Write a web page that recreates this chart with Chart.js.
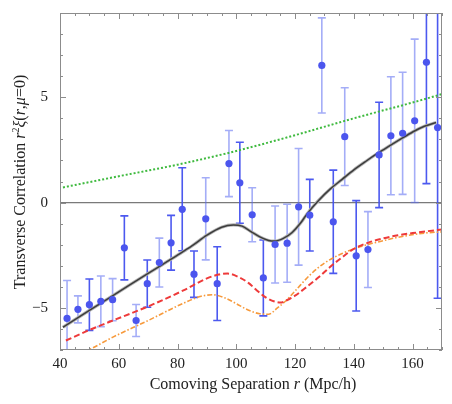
<!DOCTYPE html>
<html>
<head>
<meta charset="utf-8">
<script src="https://cdn.jsdelivr.net/npm/chart.js@4.4.1/dist/chart.umd.min.js"></script>
<style>
  html, body { margin: 0; padding: 0; background: #fff; }
  #wrap { width: 452px; height: 404px; }
</style>
</head>
<body>
<div id="wrap"><canvas id="xiChart" width="452" height="404"></canvas></div>
<script>
// измеренные точки: разделение r и r^2 xi с ошибками
const sepX   = [42.4, 46.1, 50.0, 53.9, 57.9, 61.9, 65.9, 69.7, 73.8, 77.8, 81.6, 85.6, 89.6, 93.5, 97.5, 101.2, 105.4,
                109.2, 113.2, 117.3, 121.2, 125.0, 129.1, 133.0, 136.9, 140.8, 144.8, 148.6, 152.6, 156.6, 160.7, 164.7, 168.5];
const xiVals = [-5.5, -5.07, -4.85, -4.69, -4.61, -2.15, -5.6, -3.85, -2.85, -1.91, -0.32, -3.4, -0.77, -3.85, 1.85, 0.94, -0.58,
                -3.58, -1.99, -1.93, -0.2, -0.6, 6.51, -0.91, 3.13, -2.53, -2.23, 2.26, 3.17, 3.29, 3.88, 6.66, 3.56];
const xiErr  = [1.8, 0.64, 1.22, 1.2, 1.0, 1.52, 0.76, 1.12, 1.16, 1.3, 1.97, 1.1, 1.95, 1.75, 1.57, 1.92, 1.28,
                1.8, 1.83, 1.85, 2.77, 1.7, 2.26, 2.45, 2.32, 2.62, 1.8, 2.5, 2.8, 2.9, 3.88, 5.76, 8.1];

// модельные кривые
const blackX = [41, 42, 50, 60, 70, 80, 85, 90, 95, 99, 102, 105, 108, 111, 113, 116, 119, 122, 124, 128, 132, 136, 140, 144, 148, 152, 156, 160, 164, 168];
const blackY = [-5.92, -5.83, -5.12, -4.24, -3.36, -2.5, -2.05, -1.55, -1.17, -1.06, -1.12, -1.38, -1.63, -1.8, -1.83, -1.7, -1.42, -0.95, -0.55, 0.1, 0.65, 1.1, 1.55, 1.95, 2.33, 2.68, 3.02, 3.35, 3.62, 3.8];
const redX   = [42, 50, 58, 70, 82, 90, 94, 97, 101, 104, 107, 110, 113, 115, 117, 120, 124, 128, 132, 136, 140, 145, 150, 155, 160, 165, 170];
const redY   = [-6.55, -6.05, -5.6, -4.93, -4.17, -3.6, -3.42, -3.37, -3.55, -3.8, -4.17, -4.5, -4.7, -4.75, -4.65, -4.42, -4.0, -3.55, -3.05, -2.6, -2.2, -1.9, -1.7, -1.55, -1.45, -1.36, -1.28];
const orangeX = [48, 50, 58, 70, 82, 88, 92, 96, 100, 104, 108, 111, 114, 117, 120, 125, 130, 136, 142, 148, 153, 158, 164, 170];
const orangeY = [-7.1, -6.98, -6.39, -5.6, -4.78, -4.45, -4.38, -4.52, -4.8, -5.1, -5.28, -5.3, -5.0, -4.65, -4.2, -3.45, -2.87, -2.42, -2.1, -1.88, -1.71, -1.57, -1.45, -1.39];
const greenX = [41, 60, 80, 100, 120, 140, 160, 170];
const greenY = [0.72, 1.25, 1.8, 2.45, 3.2, 4.0, 4.75, 5.15];

const xTicks = [40, 60, 80, 100, 120, 140, 160];
const yTicks = [-5, 0, 5];

// оттенок усов ошибок (1 - тёмный, 0 - светлый)
const barTone = [0, 0, 1, 0, 0, 1, 0, 1, 0, 1, 1, 1, 0, 1, 0, 1, 0, 1, 0, 0, 0, 1, 0, 1, 0, 1, 0, 1, 0, 0, 0, 1, 1];

const SERIF = '"Liberation Serif", "DejaVu Serif", serif';
const FRAME = '#8c8c8c';

function pts(xs, ys) {
    return xs.map((x, i) => ({ x: x, y: ys[i] }));
}

// Рамка, тики внутрь, нулевая линия, усы ошибок и подписи осей
const framePlugin = {
    id: 'framePlugin',
    beforeDatasetsDraw(chart) {
        const { ctx, chartArea: a, scales } = chart;
        const xs = scales.x, ys = scales.y;
        ctx.save();
        ctx.beginPath();
        ctx.rect(a.left, a.top, a.right - a.left, a.bottom - a.top);
        ctx.clip();

        // нулевая линия
        ctx.strokeStyle = '#7a7a7a';
        ctx.lineWidth = 1.2;
        const y0 = ys.getPixelForValue(0);
        ctx.beginPath();
        ctx.moveTo(a.left, y0);
        ctx.lineTo(a.right, y0);
        ctx.stroke();

        // усы ошибок
        ctx.lineWidth = 1.6;
        sepX.forEach((x, i) => {
            const px = xs.getPixelForValue(x);
            const top = ys.getPixelForValue(xiVals[i] + xiErr[i]);
            const bot = ys.getPixelForValue(xiVals[i] - xiErr[i]);
            ctx.strokeStyle = barTone[i] ? 'rgba(66, 80, 238, 0.95)' : 'rgba(90, 105, 240, 0.55)';
            ctx.beginPath();
            ctx.moveTo(px, top);
            ctx.lineTo(px, bot);
            ctx.moveTo(px - 4, top);
            ctx.lineTo(px + 4, top);
            ctx.moveTo(px - 4, bot);
            ctx.lineTo(px + 4, bot);
            ctx.stroke();
        });
        ctx.restore();
    },
    afterDatasetsDraw(chart) {
        const { ctx, chartArea: a, scales } = chart;
        const xs = scales.x, ys = scales.y;
        ctx.save();
        ctx.strokeStyle = FRAME;
        ctx.lineWidth = 1;
        ctx.strokeRect(a.left + 0.5, a.top + 0.5, a.right - a.left - 1, a.bottom - a.top - 1);

        ctx.beginPath();
        for (let v = 40; v <= 170; v += 5) {
            const px = Math.round(xs.getPixelForValue(v)) + 0.5;
            const len = v % 20 === 0 ? 6 : 3;
            ctx.moveTo(px, a.bottom);
            ctx.lineTo(px, a.bottom - len);
            ctx.moveTo(px, a.top);
            ctx.lineTo(px, a.top + len);
        }
        for (let v = -7; v <= 9; v += 1) {
            const py = Math.round(ys.getPixelForValue(v)) + 0.5;
            const len = v % 5 === 0 ? 6 : 3;
            ctx.moveTo(a.left, py);
            ctx.lineTo(a.left + len, py);
            ctx.moveTo(a.right, py);
            ctx.lineTo(a.right - len, py);
        }
        ctx.stroke();

        // подписи осей (курсив для переменных)
        ctx.fillStyle = '#222';
        ctx.textBaseline = 'alphabetic';
        const xParts = [['Comoving Separation ', ''], ['r', 'italic '], [' (Mpc/h)', '']];
        drawParts(ctx, xParts, (a.left + a.right) / 2 + 2, 389, 0);
        const yParts = [['Transverse Correlation ', ''], ['r', 'italic '], ['2', 'sup'], ['ξ', 'italic '], ['(', ''], ['r', 'italic '], [',', ''], ['μ', 'italic '], ['=0)', '']];
        drawParts(ctx, yParts, 25, 182, -Math.PI / 2);
        ctx.restore();
    }
};

function drawParts(ctx, parts, cx, cy, angle) {
    const size = 16;
    const fontOf = p => p[1] === 'sup' ? `${Math.round(size * 0.65)}px ${SERIF}` : `${p[1]}${size}px ${SERIF}`;
    let total = 0;
    parts.forEach(p => { ctx.font = fontOf(p); total += ctx.measureText(p[0]).width; });
    ctx.save();
    ctx.translate(cx, cy);
    ctx.rotate(angle);
    let x = -total / 2;
    parts.forEach(p => {
        ctx.font = fontOf(p);
        ctx.fillText(p[0], x, p[1] === 'sup' ? -6 : 0);
        x += ctx.measureText(p[0]).width;
    });
    ctx.restore();
}

const lineBase = { showLine: true, pointRadius: 0, cubicInterpolationMode: 'monotone', fill: false };

new Chart(document.getElementById('xiChart'), {
    type: 'scatter',
    data: {
        datasets: [
            {
                label: 'data',
                data: pts(sepX, xiVals),
                pointRadius: 3.6,
                pointBackgroundColor: '#4b55ee',
                pointBorderColor: '#4b55ee',
                pointBorderWidth: 0
            },
            Object.assign({ label: 'model', data: pts(blackX, blackY), borderColor: '#3c3c3c', borderWidth: 1.5 }, lineBase),
            Object.assign({ label: 'model halo', data: pts(blackX, blackY), borderColor: '#b4b4b4', borderWidth: 3.2 }, lineBase),
            Object.assign({ label: 'red', data: pts(redX, redY), borderColor: '#ee3a3a', borderWidth: 2, borderDash: [6, 3] }, lineBase),
            Object.assign({ label: 'orange', data: pts(orangeX, orangeY), borderColor: '#f79a3c', borderWidth: 1.6, borderDash: [5, 2, 1.5, 2] }, lineBase),
            Object.assign({ label: 'green', data: pts(greenX, greenY), borderColor: '#3fba3f', borderWidth: 2, borderDash: [2, 2] }, lineBase)
        ]
    },
    options: {
        responsive: false,
        devicePixelRatio: 1,
        animation: false,
        layout: { padding: { top: 13, right: 10, left: 0, bottom: 0 } },
        plugins: {
            legend: { display: false },
            tooltip: { enabled: false }
        },
        scales: {
            x: {
                type: 'linear',
                min: 40,
                max: 170,
                grid: { display: false },
                border: { display: false },
                afterBuildTicks: s => { s.ticks = xTicks.map(v => ({ value: v })); },
                afterFit: s => { s.height = 54; },
                ticks: {
                    padding: -3,
                    maxRotation: 0,
                    color: '#222',
                    font: { family: SERIF, size: 15 }
                }
            },
            y: {
                type: 'linear',
                min: -7,
                max: 9,
                grid: { display: false },
                border: { display: false },
                afterBuildTicks: s => { s.ticks = yTicks.map(v => ({ value: v })); },
                afterFit: s => { s.width = 60; },
                ticks: {
                    padding: 4,
                    color: '#222',
                    font: { family: SERIF, size: 15 },
                    callback: v => v < 0 ? '\u2212' + Math.abs(v) : String(v)
                }
            }
        }
    },
    plugins: [framePlugin]
});
</script>
</body>
</html>
